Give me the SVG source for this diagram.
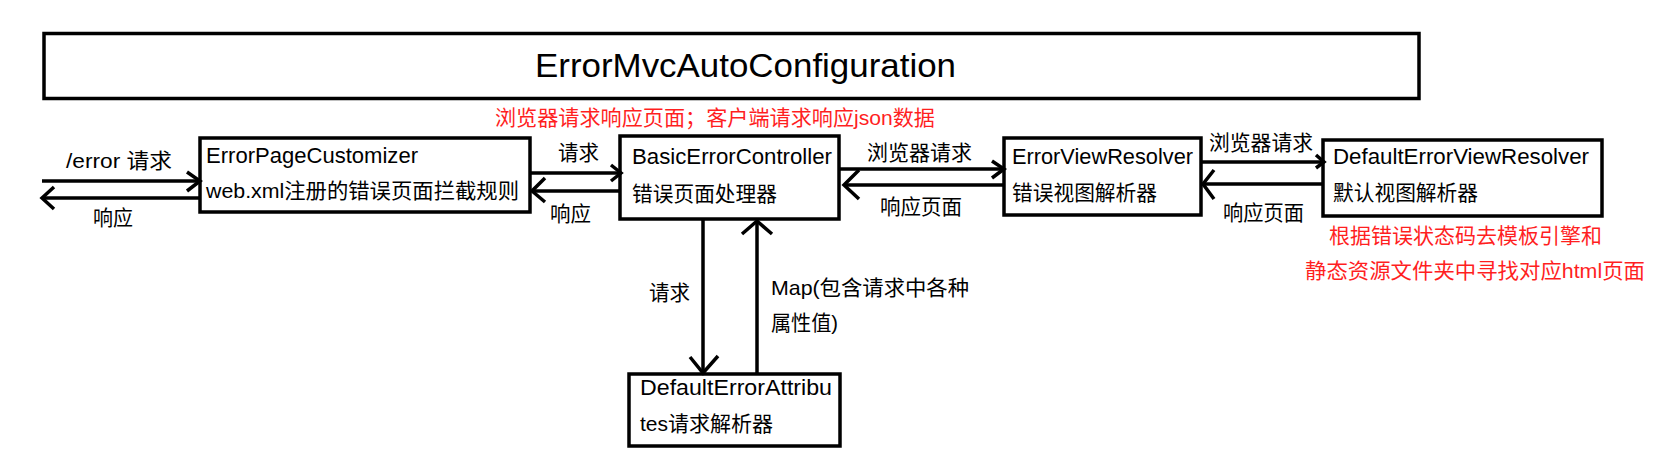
<svg xmlns="http://www.w3.org/2000/svg" width="1657" height="465" viewBox="0 0 1657 465">
  <style>
    .box { fill: #ffffff; stroke: #000000; stroke-width: 3.5; }
    .ln { fill: none; stroke: #000000; stroke-width: 3.5; }
    .hd { fill: none; stroke: #000000; stroke-width: 3.5; stroke-linejoin: miter; }
    text { font-family: "Liberation Sans", "Noto Sans CJK SC", sans-serif; fill: #000000; }
    .t { font-size: 22px; }
    .c { font-size: 21px; }
    .red { font-size: 21px; fill: #ff1f1f; }
    .title { font-size: 34px; }
  </style>
  <rect width="1657" height="465" fill="#ffffff"/>

  <g id="ErrorMvcAutoConfiguration">
    <rect class="box" x="44" y="33.5" width="1375" height="65"/>
    <text class="title" x="535" y="77" textLength="421" lengthAdjust="spacingAndGlyphs">ErrorMvcAutoConfiguration</text>
  </g>

  <g id="ErrorPageCustomizer">
    <rect class="box" x="200" y="138" width="330" height="74"/>
    <text class="t" x="206" y="163" textLength="212" lengthAdjust="spacingAndGlyphs">ErrorPageCustomizer</text>
    <text class="c" x="206" y="198" textLength="313" lengthAdjust="spacingAndGlyphs">web.xml注册的错误页面拦截规则</text>
  </g>

  <g id="BasicErrorController">
    <rect class="box" x="620" y="136" width="219" height="83"/>
    <text class="t" x="632" y="164" textLength="200" lengthAdjust="spacingAndGlyphs">BasicErrorController</text>
    <text class="c" x="632" y="200.5" textLength="145" lengthAdjust="spacingAndGlyphs">错误页面处理器</text>
  </g>

  <g id="ErrorViewResolver">
    <rect class="box" x="1004" y="138" width="197" height="77"/>
    <text class="t" x="1012" y="164" textLength="181" lengthAdjust="spacingAndGlyphs">ErrorViewResolver</text>
    <text class="c" x="1012" y="200" textLength="145" lengthAdjust="spacingAndGlyphs">错误视图解析器</text>
  </g>

  <g id="DefaultErrorViewResolver">
    <rect class="box" x="1323" y="140" width="279" height="76"/>
    <text class="t" x="1333" y="164" textLength="256" lengthAdjust="spacingAndGlyphs">DefaultErrorViewResolver</text>
    <text class="c" x="1333" y="200" textLength="145" lengthAdjust="spacingAndGlyphs">默认视图解析器</text>
  </g>

  <g id="DefaultErrorAttributes">
    <rect class="box" x="629" y="374" width="211" height="72"/>
    <text class="t" x="640" y="395" textLength="192" lengthAdjust="spacingAndGlyphs">DefaultErrorAttribu</text>
    <text class="c" x="640" y="431" textLength="133" lengthAdjust="spacingAndGlyphs">tes请求解析器</text>
  </g>

  <g id="connectors">
    <!-- /error request into ErrorPageCustomizer -->
    <path class="ln" d="M42,181 H199"/>
    <path class="hd" d="M187,172 L200,181 L187,191"/>
    <!-- response out to the left -->
    <path class="ln" d="M200,198 H43"/>
    <path class="hd" d="M54,187 L42,198 L54,209"/>
    <!-- ErrorPageCustomizer -> BasicErrorController -->
    <path class="ln" d="M530,173 H620"/>
    <path class="hd" d="M611,165 L621,173 L611,181"/>
    <!-- BasicErrorController -> ErrorPageCustomizer -->
    <path class="ln" d="M620,191 H532"/>
    <path class="hd" d="M545,178 L532,191 L545,202"/>
    <!-- BasicErrorController -> ErrorViewResolver -->
    <path class="ln" d="M839,169 H1003"/>
    <path class="hd" d="M992,161 L1004,169 L992,178"/>
    <!-- ErrorViewResolver -> BasicErrorController -->
    <path class="ln" d="M1004,185 H845"/>
    <path class="hd" d="M859,170 L844,185 L859,199"/>
    <!-- ErrorViewResolver -> DefaultErrorViewResolver -->
    <path class="ln" d="M1201,162 H1323"/>
    <path class="hd" d="M1316,155 L1324,162 L1316,168"/>
    <!-- DefaultErrorViewResolver -> ErrorViewResolver -->
    <path class="ln" d="M1323,184 H1204"/>
    <path class="hd" d="M1214,170 L1203,184 L1214,199"/>
    <!-- BasicErrorController -> DefaultErrorAttributes -->
    <path class="ln" d="M703,219 V372"/>
    <path class="hd" d="M690,357 L703,373 L718,356"/>
    <!-- DefaultErrorAttributes -> BasicErrorController -->
    <path class="ln" d="M757,374 V222"/>
    <path class="hd" d="M742,234 L757,221 L772,234"/>

    <text class="c" x="66" y="168" textLength="106" lengthAdjust="spacingAndGlyphs">/error 请求</text>
    <text class="c" x="93" y="224.5" textLength="40" lengthAdjust="spacingAndGlyphs">响应</text>
    <text class="c" x="558" y="160" textLength="41" lengthAdjust="spacingAndGlyphs">请求</text>
    <text class="c" x="550" y="221" textLength="41" lengthAdjust="spacingAndGlyphs">响应</text>
    <text class="c" x="867" y="159.5" textLength="105" lengthAdjust="spacingAndGlyphs">浏览器请求</text>
    <text class="c" x="880" y="213.5" textLength="82" lengthAdjust="spacingAndGlyphs">响应页面</text>
    <text class="c" x="1209" y="150" textLength="104" lengthAdjust="spacingAndGlyphs">浏览器请求</text>
    <text class="c" x="1223" y="220" textLength="81" lengthAdjust="spacingAndGlyphs">响应页面</text>
    <text class="c" x="649" y="299.5" textLength="41" lengthAdjust="spacingAndGlyphs">请求</text>
    <text class="c" x="771" y="295" textLength="198" lengthAdjust="spacingAndGlyphs">Map(包含请求中各种</text>
    <text class="c" x="771" y="330" textLength="67" lengthAdjust="spacingAndGlyphs">属性值)</text>
  </g>

  <g id="notes">
    <text class="red" x="495" y="125" textLength="440" lengthAdjust="spacingAndGlyphs">浏览器请求响应页面；客户端请求响应json数据</text>
    <text class="red" x="1329" y="242.5" textLength="273" lengthAdjust="spacingAndGlyphs">根据错误状态码去模板引擎和</text>
    <text class="red" x="1305" y="277.5" textLength="340" lengthAdjust="spacingAndGlyphs">静态资源文件夹中寻找对应html页面</text>
  </g>
</svg>
